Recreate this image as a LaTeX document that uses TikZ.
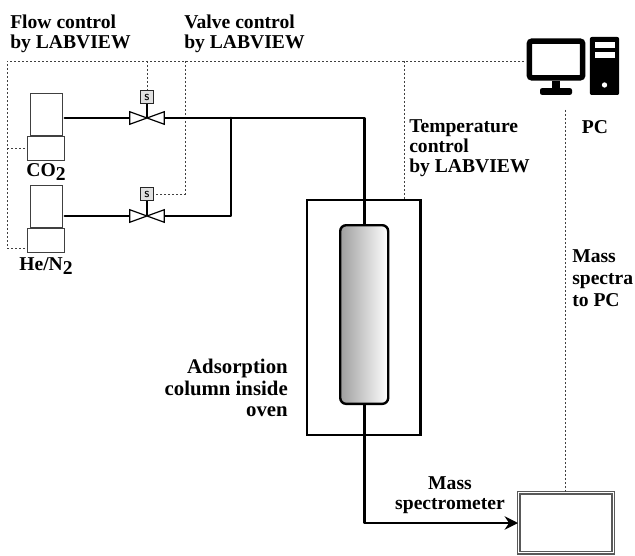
\documentclass[tikz,border=0pt]{standalone}
\usepackage{fontspec}
\setmainfont{Liberation Serif}
\usepackage{xcolor}
\usetikzlibrary{calc, arrows.meta, positioning}
\newcommand{\subtwo}{\raisebox{-0.4ex}{2}}

\begin{document}
\begin{tikzpicture}[
      x=0.75pt, y=-0.75pt,
      lbl/.style={inner sep=0pt, align=left, font=\fontsize{14.7}{14.8}\selectfont\bfseries},
      gastop/.style={draw=black!75, line width=0.7pt, fill=white, inner sep=0pt,
                     minimum width=24pt, minimum height=31pt},
      gasbase/.style={draw=black!75, line width=0.7pt, fill=white, inner sep=0pt,
                      minimum width=27.5pt, minimum height=18pt},
      solenoid/.style={draw=black!85, line width=1.2pt, fill=black!12, inner sep=0pt,
                       minimum size=9.5pt, font=\sffamily\bfseries\fontsize{6.5}{7}\selectfont},
      valve/.style={inner sep=0pt, minimum width=25.5pt, minimum height=9pt},
      bowtie/.style={draw=black, line width=0.9pt, fill=white, line join=miter},
      pipe/.style={line width=2pt, line cap=round, line join=round},
      stem/.style={line width=1.1pt},
      signal/.style={draw=black!75, line width=0.7pt, dash pattern=on 1.5pt off 1.5pt},
      icon/.style={fill=black, inner sep=0pt, rounded corners=1.5pt},
      arr/.style={-{Stealth[length=10pt,width=10pt]}, line width=2pt, line join=round}
    ]
    \useasboundingbox (0,0) rectangle (635,556);

    \node[gastop] (co2top) at (46,114.5) {};
    \node[gasbase, below=0pt of co2top] (co2base) {};
    \node[lbl, align=center] (co2lbl) at (46,172) {CO\subtwo};
    \node[gastop] (hetop) at (46,206.5) {};
    \node[gasbase, below=0pt of hetop] (hebase) {};
    \node[lbl, align=center] (helbl) at (46,266) {He/N\subtwo};

    \node[valve] (v1) at (147,118) {};
    \node[valve] (v2) at (147,216) {};
    \node[solenoid] (s1) at (147,97) {S};
    \node[solenoid] (s2) at (147,194) {S};

    \node[draw, line width=1.8pt, inner sep=0pt, minimum width=85pt, minimum height=176pt,
          anchor=north west] (oven) at (306,199) {};
    \node[draw, line width=1.8pt, rounded corners=4.5pt, inner sep=0pt, minimum width=36pt,
          minimum height=134pt, left color=black!38, right color=white,
          anchor=north west] (column) at (339,224) {};
    \node[draw=black!65, double=white, double distance=0.9pt, line width=1pt, inner sep=0pt,
          minimum width=71pt, minimum height=45pt, anchor=north west] (ms) at (518,492) {};

    \node[draw, line width=4.2pt, rounded corners=2pt, inner sep=0pt, minimum width=40pt,
          minimum height=27.5pt, fill=white] (monitor) at (556,59.5) {};
    \node[icon, minimum width=6pt, minimum height=8pt, rounded corners=0pt] (neck) at (556,86) {};
    \node[icon, minimum width=24pt, minimum height=5pt] (foot) at (556,91.5) {};
    \node[icon, minimum width=22pt, minimum height=43.5pt] (tower) at (604.5,66) {};
    \node[fill=white, inner sep=0pt, minimum width=15pt, minimum height=4.5pt] (slota) at (604.5,45) {};
    \node[fill=white, inner sep=0pt, minimum width=15pt, minimum height=4.5pt] (slotb) at (604.5,55) {};
    \node[fill=white, circle, inner sep=0pt, minimum size=4pt] (led) at (604.5,85) {};

    \coordinate (busleft) at (7,61);
    \coordinate (tee) at (231,118);
    \coordinate (valvedrop) at (185,61);
    \coordinate (tempdrop) at (404,61);
    \coordinate (pcdrop) at (565,110);

    \draw[signal] (monitor.west |- busleft) ++(-3,0) -- (busleft) |- (hebase.west |- 0,248);
    \draw[signal] (busleft |- co2base.west) -- (co2base.west);
    \draw[signal] (v1 |- busleft) -- (s1.north);
    \draw[signal] (valvedrop) |- (s2.east);
    \draw[signal] (tempdrop) -- (tempdrop |- oven.north);
    \draw[signal] (pcdrop) -- (pcdrop |- ms.north);

    \draw[pipe] (v1.west -| co2base.east) -- (v1.west);
    \draw[pipe] (v2.west -| hebase.east) -- (v2.west);
    \draw[pipe] (v1.east) -- (v1.east -| column.north) -- (column.north);
    \draw[pipe] (v2.east) -| (tee);
    \draw[arr] (column.south) |- (ms.west |- 0,523);

    \draw[stem] (s1.south) -- (v1.center);
    \draw[stem] (s2.south) -- (v2.center);
    \foreach \v in {v1,v2}
      \draw[bowtie] (\v.north west) -- (\v.south east) -- (\v.north east) -- (\v.south west) -- cycle;

    \node[lbl, anchor=west] (flowlbl) at (10,33.5) {Flow control\\by LABVIEW};
    \node[lbl, anchor=west] (valvelbl) at (184,33.5) {Valve control\\by LABVIEW};
    \node[lbl, anchor=west] (templbl) at (409,148) {Temperature\\control\\by LABVIEW};
    \node[lbl] (pclbl) at (595,127) {PC};
    \node[lbl, anchor=west] (speclbl) at (572,278) {Mass\\[1.6pt]spectra\\[1.6pt]to PC};
    \node[lbl, align=right, anchor=east, font=\fontsize{15.6}{14.8}\selectfont\bfseries] (adslbl)
      at (288,388) {Adsorption\\[1.2pt]column inside\\[1.2pt]oven};
    \node[lbl, align=center] (mslbl) at (450,495) {Mass\\spectrometer};
  \end{tikzpicture}
\end{document}
